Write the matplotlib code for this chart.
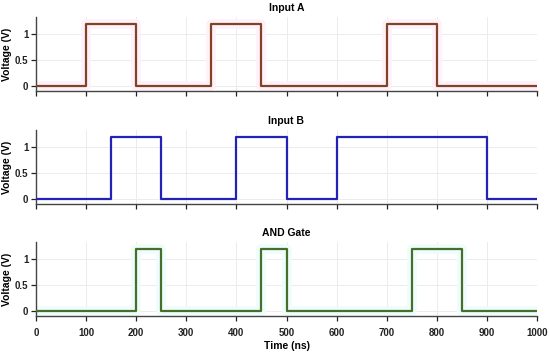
import matplotlib
matplotlib.use("Agg")
import matplotlib.pyplot as plt

# step breakpoints (ns) and the level that holds from each one
time_a = [0, 100, 200, 350, 450, 700, 800, 1000]
volt_a = [0, 1.2, 0, 1.2, 0, 1.2, 0, 0]

time_b = [0, 150, 250, 400, 500, 600, 900, 1000]
volt_b = [0, 1.2, 0, 1.2, 0, 1.2, 0, 0]

time_and = [0, 200, 250, 450, 500, 750, 850, 1000]
volt_and = [0, 1.2, 0, 1.2, 0, 1.2, 0, 0]

titles = ["Input A", "Input B", "AND Gate"]
colors = ["#7f4426", "#2222b8", "#46702a"]
glows = ["#fff0fa", None, "#effcfc"]
x_ticks = list(range(0, 1001, 100))
y_ticks = [0, 0.5, 1]

plt.rcParams["font.family"] = ["Liberation Sans", "DejaVu Sans"]
plt.rcParams["font.weight"] = "bold"

fig = plt.figure(figsize=(5.5, 3.57), dpi=100)
left, width, height = 36 / 550, 501 / 550, 74 / 357
bottoms = [1 - 91 / 357, 1 - 204 / 357, 1 - 316 / 357]

series = [(time_a, volt_a), (time_b, volt_b), (time_and, volt_and)]
for i, ((t, v), title, col, glow) in enumerate(zip(series, titles, colors, glows)):
    ax = fig.add_axes([left, bottoms[i], width, height])
    if glow:
        ax.plot(t, v, drawstyle="steps-post", color=glow, lw=7, zorder=1,
                solid_capstyle="butt")
    ax.plot(t, v, drawstyle="steps-post", color=col, lw=1.6, zorder=3)
    ax.set_xlim(0, 1000)
    ax.set_ylim(-0.1, 1.33)
    ax.set_xticks(x_ticks)
    ax.set_yticks(y_ticks)
    ax.set_yticklabels(["0", "0.5", "1"])
    ax.grid(True, color="#ececec", lw=0.7)
    ax.set_axisbelow(True)
    for s in ["top", "right"]:
        ax.spines[s].set_visible(False)
    for s in ["left", "bottom"]:
        ax.spines[s].set_color("#444444")
        ax.spines[s].set_linewidth(1.0)
    ax.tick_params(axis="both", labelsize=7, colors="#222222", length=3.5,
                   width=0.9, pad=2)
    ax.tick_params(axis="x", pad=5)
    ax.set_title(title, fontsize=7.5, fontweight="bold", pad=4)
    ax.set_ylabel("Voltage (V)", fontsize=7.5, fontweight="bold", labelpad=2)
    if i < 2:
        ax.tick_params(axis="x", labelbottom=False)
    else:
        ax.set_xlabel("Time (ns)", fontsize=7.5, fontweight="bold", labelpad=2)

fig.savefig("out.png", dpi=100, facecolor="white")
